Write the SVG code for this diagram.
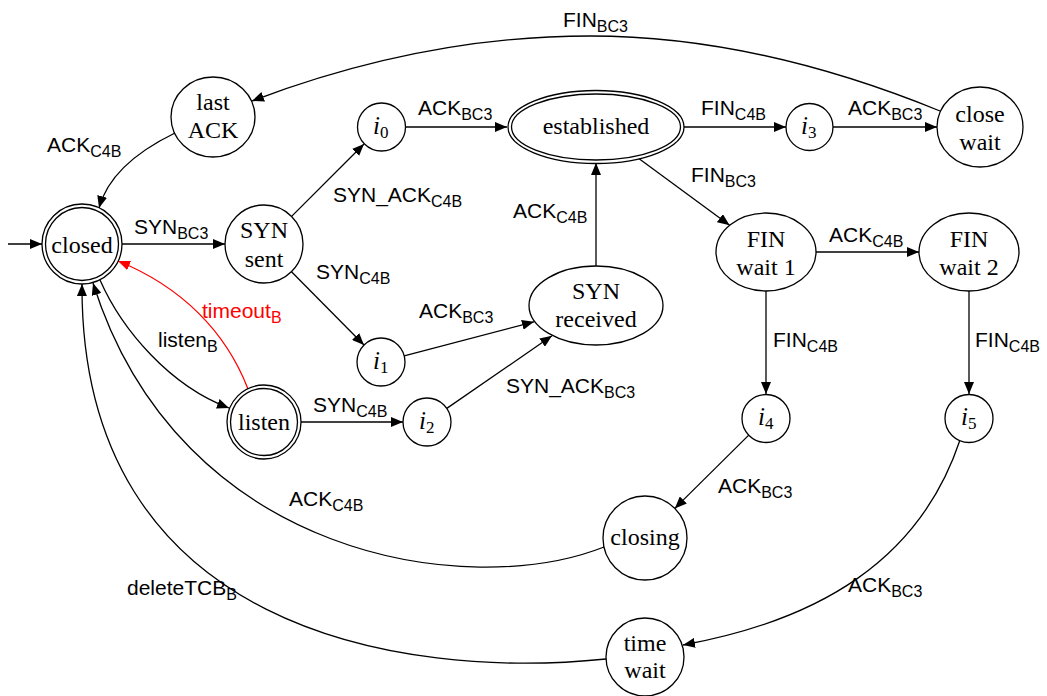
<svg xmlns="http://www.w3.org/2000/svg" width="1047" height="696" viewBox="0 0 1047 696">
<style>
.n{fill:#fff;stroke:#000;stroke-width:1.3}
.t{font-family:"Liberation Serif","Times New Roman",serif;font-size:24px;fill:#000;text-anchor:middle}
.m{font-family:"Liberation Serif","Times New Roman",serif;font-size:25px;font-style:italic;fill:#000}
.ms{font-size:17px;font-style:normal}
.e{fill:none;stroke:#000;stroke-width:1.3;marker-end:url(#ah)}
.r{fill:none;stroke:#f00;stroke-width:1.3;marker-end:url(#ahr)}
.l{font-family:"Liberation Sans",Arial,sans-serif;font-size:21px;fill:#000}
.s{font-size:16px}
</style>
<defs>
<marker id="ah" markerUnits="userSpaceOnUse" markerWidth="13" markerHeight="10" refX="12" refY="5" orient="auto"><path d="M0,0 L12,5 L0,10 z" fill="#000"/></marker>
<marker id="ahr" markerUnits="userSpaceOnUse" markerWidth="13" markerHeight="10" refX="12" refY="5" orient="auto"><path d="M0,0 L12,5 L0,10 z" fill="#f00"/></marker>
</defs>
<rect width="1047" height="696" fill="#fff"/>
<g id="connectors">
<path class="e" d="M8,244 L42,244"/>
<path class="e" d="M122,244 L225,244"/>
<path class="e" d="M291.6,216.4 L364,144"/>
<path class="e" d="M291.5,271.7 L364,345"/>
<path class="e" d="M405,127 L507,127"/>
<path class="e" d="M404.2,355.9 L534,321.8"/>
<path class="e" d="M446.8,408.4 L552,335.8"/>
<path class="e" d="M596,266 L596,163"/>
<path class="e" d="M301,422 L403,422"/>
<path class="e" d="M684,127 L786,127"/>
<path class="e" d="M833,127 L937,127"/>
<path class="e" d="M638.8,158.5 L729.6,225.2"/>
<path class="e" d="M816,252 L919,252"/>
<path class="e" d="M766,291 L766,394"/>
<path class="e" d="M969,291 L969,394"/>
<path class="e" d="M749,434.9 L674.8,508.4"/>
<path class="e" d="M175,133 C140,150 108,175 99,208"/>
<path class="e" d="M100,280 C122,330 170,386 229,408"/>
<path class="r" d="M248,389 C226,332 182,287 118,261"/>
<path class="e" d="M604,547 C470,600 180,560 93,283"/>
<path class="e" d="M606,659 C400,680 80,630 82,284"/>
<path class="e" d="M960,440 C920,560 820,620 683,645"/>
<path class="e" d="M940,111 C820,62 700,36 590,36 C470,36 360,60 252,101"/>
<text class="l" x="134" y="234">SYN<tspan class="s" dy="5">BC3</tspan></text>
<text class="l" x="47" y="152">ACK<tspan class="s" dy="5">C4B</tspan></text>
<text class="l" x="202" y="318" style="fill:#f00">timeout<tspan class="s" dy="5">B</tspan></text>
<text class="l" x="158" y="347">listen<tspan class="s" dy="5">B</tspan></text>
<text class="l" x="333" y="202">SYN_ACK<tspan class="s" dy="5">C4B</tspan></text>
<text class="l" x="316" y="279">SYN<tspan class="s" dy="5">C4B</tspan></text>
<text class="l" x="418" y="115">ACK<tspan class="s" dy="5">BC3</tspan></text>
<text class="l" x="513" y="218">ACK<tspan class="s" dy="5">C4B</tspan></text>
<text class="l" x="419" y="318">ACK<tspan class="s" dy="5">BC3</tspan></text>
<text class="l" x="506" y="393">SYN_ACK<tspan class="s" dy="5">BC3</tspan></text>
<text class="l" x="313" y="412">SYN<tspan class="s" dy="5">C4B</tspan></text>
<text class="l" x="701" y="115">FIN<tspan class="s" dy="5">C4B</tspan></text>
<text class="l" x="848" y="115">ACK<tspan class="s" dy="5">BC3</tspan></text>
<text class="l" x="691" y="182">FIN<tspan class="s" dy="5">BC3</tspan></text>
<text class="l" x="829" y="242">ACK<tspan class="s" dy="5">C4B</tspan></text>
<text class="l" x="773" y="347">FIN<tspan class="s" dy="5">C4B</tspan></text>
<text class="l" x="975" y="347">FIN<tspan class="s" dy="5">C4B</tspan></text>
<text class="l" x="563" y="27">FIN<tspan class="s" dy="5">BC3</tspan></text>
<text class="l" x="718" y="493">ACK<tspan class="s" dy="5">BC3</tspan></text>
<text class="l" x="848" y="592">ACK<tspan class="s" dy="5">BC3</tspan></text>
<text class="l" x="289" y="506">ACK<tspan class="s" dy="5">C4B</tspan></text>
<text class="l" x="127" y="595">deleteTCB<tspan class="s" dy="5">B</tspan></text>
</g>
<g id="closed"><circle class="n" cx="82" cy="244" r="40"/><circle class="n" cx="82" cy="244" r="36.5"/><text class="t" x="82" y="253">closed</text></g>
<g id="lastack"><ellipse class="n" cx="213" cy="117" rx="42" ry="40"/><text class="t" x="213" y="110">last</text><text class="t" x="213" y="138">ACK</text></g>
<g id="synsent"><circle class="n" cx="264" cy="244" r="39"/><text class="t" x="264" y="238">SYN</text><text class="t" x="264" y="267">sent</text></g>
<g id="listen"><circle class="n" cx="264" cy="422" r="37"/><circle class="n" cx="264" cy="422" r="33.5"/><text class="t" x="264" y="430">listen</text></g>
<g id="i0"><circle class="n" cx="381.5" cy="127" r="24"/><text class="m" x="373" y="134">i<tspan class="ms" dy="4">0</tspan></text></g>
<g id="i1"><circle class="n" cx="381" cy="362" r="24"/><text class="m" x="373" y="369">i<tspan class="ms" dy="4">1</tspan></text></g>
<g id="i2"><circle class="n" cx="427" cy="422" r="24"/><text class="m" x="419" y="429">i<tspan class="ms" dy="4">2</tspan></text></g>
<g id="established"><ellipse class="n" cx="596" cy="127" rx="88" ry="36.5"/><ellipse class="n" cx="596" cy="127" rx="84.5" ry="33"/><text class="t" x="596" y="134">established</text></g>
<g id="synreceived"><ellipse class="n" cx="596" cy="305.5" rx="67" ry="39.5"/><text class="t" x="596" y="299">SYN</text><text class="t" x="596" y="327">received</text></g>
<g id="i3"><circle class="n" cx="809.5" cy="127" r="23.5"/><text class="m" x="801" y="134">i<tspan class="ms" dy="4">3</tspan></text></g>
<g id="closewait"><ellipse class="n" cx="980" cy="127" rx="43" ry="40"/><text class="t" x="980" y="122">close</text><text class="t" x="980" y="150">wait</text></g>
<g id="finwait1"><ellipse class="n" cx="766" cy="252" rx="50" ry="39"/><text class="t" x="766" y="247">FIN</text><text class="t" x="766" y="275">wait 1</text></g>
<g id="finwait2"><ellipse class="n" cx="969" cy="252" rx="50" ry="39"/><text class="t" x="969" y="247">FIN</text><text class="t" x="969" y="275">wait 2</text></g>
<g id="i4"><circle class="n" cx="766" cy="418.5" r="24"/><text class="m" x="758" y="425">i<tspan class="ms" dy="4">4</tspan></text></g>
<g id="i5"><circle class="n" cx="969" cy="418.5" r="24"/><text class="m" x="961" y="425">i<tspan class="ms" dy="4">5</tspan></text></g>
<g id="closing"><circle class="n" cx="645" cy="538" r="42"/><text class="t" x="645" y="545">closing</text></g>
<g id="timewait"><circle class="n" cx="645" cy="657" r="39"/><text class="t" x="645" y="651">time</text><text class="t" x="645" y="678">wait</text></g>
</svg>
